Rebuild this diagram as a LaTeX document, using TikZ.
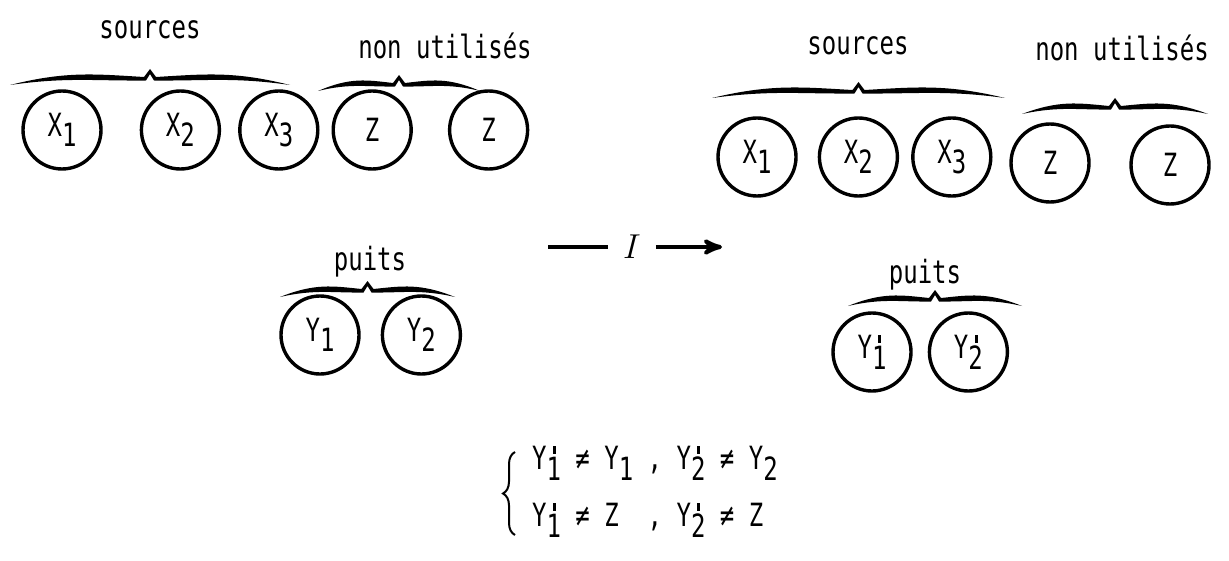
\documentclass[tikz,border=0pt]{standalone}
\usepackage{fontspec}
\setmainfont[FakeStretch=0.75]{DejaVu Sans Mono}
\usetikzlibrary{arrows,positioning,decorations.pathreplacing}
\tikzset{
    %Define standard arrow tip
    >=stealth',
    %Define style for vertices
    sommet/.style={
           circle,
           draw, line width=1.7pt,
           minimum size=39pt,
           inner sep=0pt,
           font=\fontsize{16}{18}\selectfont},
    % Define style for labels
    etiq/.style={
           font=\fontsize{16}{18}\selectfont},
    % Define brace style
    accol/.style={
           decorate,
           decoration={brace, amplitude=6pt},
           line width=1pt}
}
% indice abaisse, et indice prime
\newcommand{\ind}[2]{#1\raisebox{-0.6ex}{#2}}
\newcommand{\indp}[2]{#1\rlap{\hspace{0.2em}\rule[0.5em]{0.09em}{0.24em}}\raisebox{-0.6ex}{#2}}
% accolade tracee a la main : gauche, droite, hauteur
\newcommand{\accolade}[3]{%
  \pgfmathsetmacro\am{(#1+#2)/2}%
  \pgfmathsetmacro\aw{#2-#1}%
  \fill (#1,#3+9) .. controls (#1+0.2*\aw,#3-5) and (\am-0.2*\aw,#3-2) .. (\am-6,#3+1)
     -- (\am,#3-7) -- (\am+6,#3+1)
     .. controls (\am+0.2*\aw,#3-2) and (#2-0.2*\aw,#3-5) .. (#2,#3+9)
     .. controls (#2-0.2*\aw,#3+1) and (\am+0.2*\aw,#3+5) .. (\am+4,#3+4.5)
     -- (\am,#3-2) -- (\am-4,#3+4.5)
     .. controls (\am-0.2*\aw,#3+5) and (#1+0.2*\aw,#3+1) .. cycle;}

\begin{document}
\begin{tikzpicture}[x=0.5pt, y=-0.5pt]
     \useasboundingbox (0,0) rectangle (1229,561);
     % avant
     \node[sommet] (x1) at (62,130) {\ind{X}{1}};
     \node[sommet, right=18.5pt of x1] (x2) {\ind{X}{2}};
     \node[sommet, right=8.5pt of x2] (x3) {\ind{X}{3}};
     \node[sommet, right=6pt of x3] (z1) {Z};
     \node[sommet, right=17.5pt of z1] (z2) {Z};
     \node[sommet] (y1) at (320,335) {\ind{Y}{1}};
     \node[sommet, right=10pt of y1] (y2) {\ind{Y}{2}};
     \node[etiq] (src) at (150,30) {sources};
     \node[etiq] (nu) at (445,46) {non utilisés};
     \node[etiq] (pu) at (370,262) {puits};
     \accolade{10}{290}{76}
     \accolade{318}{480}{82}
     \accolade{280}{455}{288}
     % transformation
     \node[font=\fontsize{17}{20}\selectfont] (tr) at (632,247) {$I$};
     \draw[line width=2pt] (548,247) -- ([xshift=-4pt]tr.west);
     \draw[->, line width=2pt] ([xshift=4pt]tr.east) -- (722,247);
     % apres
     \node[sommet] (xa1) at (757,157) {\ind{X}{1}};
     \node[sommet, right=10pt of xa1] (xa2) {\ind{X}{2}};
     \node[sommet, right=6pt of xa2] (xa3) {\ind{X}{3}};
     \node[sommet] (za1) at (1050,163) {Z};
     \node[sommet] (za2) at (1170,165) {Z};
     \node[sommet] (ya1) at (872,352) {\indp{Y}{1}};
     \node[sommet, right=7.5pt of ya1] (ya2) {\indp{Y}{2}};
     \node[etiq] (srca) at (858,46) {sources};
     \node[etiq] (nua) at (1122,48) {non utilisés};
     \node[etiq] (pua) at (925,275) {puits};
     \accolade{712}{1005}{89}
     \accolade{1022}{1208}{105}
     \accolade{848}{1022}{297}
     % conditions
     \draw[accol] (515,535) -- (515,452);
     \node[etiq, anchor=west] (c1) at (525,463) {\indp{Y}{1} ≠ \ind{Y}{1} , \indp{Y}{2} ≠ \ind{Y}{2}};
     \node[etiq, anchor=west] (c2) at (525,520) {\indp{Y}{1} ≠ Z\ \ , \indp{Y}{2} ≠ Z};
\end{tikzpicture}
\end{document}
